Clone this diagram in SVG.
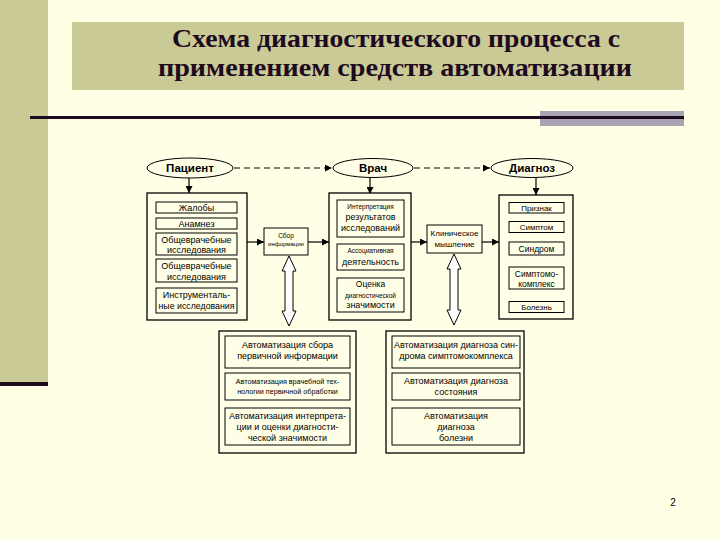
<svg xmlns="http://www.w3.org/2000/svg" width="720" height="540" viewBox="0 0 720 540">
<defs>
<style>
.t{font-family:"Liberation Sans",Arial,sans-serif;fill:#000;text-anchor:middle}
.b{fill:#FFFFE8;stroke:#000;stroke-width:1}
.o{fill:#FFFFE8;stroke:#000;stroke-width:1.3}
.c{stroke:#000;stroke-width:1.2;fill:none}
.d{stroke:#000;stroke-width:1.2;fill:none;stroke-dasharray:6 4}
</style>
<marker id="ah" viewBox="0 0 10 10" refX="10" refY="5" markerWidth="7" markerHeight="7" markerUnits="userSpaceOnUse" orient="auto">
<path d="M0,0 L10,5 L0,10 z" fill="#000"/>
</marker>
</defs>
<rect x="0" y="0" width="720" height="540" fill="#FFFFE6"/>
<rect x="0" y="0" width="48" height="382" fill="#CACA96"/>
<rect x="0" y="382" width="48" height="4" fill="#1E0A1E"/>
<rect x="72" y="22" width="612" height="68" fill="#CACA96"/>
<rect x="540" y="111" width="144" height="15" fill="#A8A3B5"/>
<rect x="30" y="116" width="654" height="3" fill="#1E0A1E"/>
<g id="title" font-family="'Liberation Serif','Times New Roman',serif" font-weight="bold" font-size="26" fill="#1E0A1E" text-anchor="middle">
<text x="396" y="47" textLength="448" lengthAdjust="spacingAndGlyphs">Схема диагностического процесса с</text>
<text x="395" y="76" textLength="474" lengthAdjust="spacingAndGlyphs">применением средств автоматизации</text>
</g>

<g id="connectors">
<line class="d" x1="234" y1="168" x2="332" y2="168" marker-end="url(#ah)"/>
<line class="d" x1="414" y1="168" x2="490" y2="168" marker-end="url(#ah)"/>
<line class="c" x1="189" y1="178" x2="189" y2="193" marker-end="url(#ah)"/>
<line class="c" x1="370" y1="177" x2="370" y2="194" marker-end="url(#ah)"/>
<line class="c" x1="536" y1="177" x2="536" y2="195" marker-end="url(#ah)"/>
<line class="c" x1="247" y1="242" x2="264" y2="242" marker-end="url(#ah)"/>
<line class="c" x1="308" y1="242" x2="329" y2="242" marker-end="url(#ah)"/>
<line class="c" x1="411" y1="242" x2="427" y2="242" marker-end="url(#ah)"/>
<line class="c" x1="482" y1="242" x2="499" y2="242" marker-end="url(#ah)"/>
<polygon fill="#FFFFFF" stroke="#000" stroke-width="1" points="289,256 296,271 293,271 293,311 296,311 289,326 282,311 285,311 285,271 282,271"/>
<polygon fill="#FFFFFF" stroke="#000" stroke-width="1" points="454,254 461,269 458,269 458,310 461,310 454,325 447,310 450,310 450,269 447,269"/>
</g>

<g id="patient">
<ellipse class="b" cx="190" cy="168" rx="43" ry="10"/>
<text class="t" x="190" y="172" font-size="11.5" font-weight="bold">Пациент</text>
</g>
<g id="doctor">
<ellipse class="b" cx="373" cy="168" rx="40" ry="9.5"/>
<text class="t" x="373" y="172" font-size="11.5" font-weight="bold">Врач</text>
</g>
<g id="diagnosis">
<ellipse class="b" cx="532" cy="168" rx="41" ry="9.5"/>
<text class="t" x="532" y="172" font-size="11.5" font-weight="bold">Диагноз</text>
</g>

<g id="patient-box">
<rect class="o" x="147" y="193" width="100" height="127"/>
<rect class="b" x="156" y="202" width="81" height="11"/>
<text class="t" x="196.5" y="211" font-size="9">Жалобы</text>
<rect class="b" x="156" y="218" width="81" height="11"/>
<text class="t" x="196.5" y="227" font-size="9">Анамнез</text>
<rect class="b" x="156" y="233" width="81" height="22"/>
<text class="t" x="196.5" y="243" font-size="9">Общеврачебные</text>
<text class="t" x="196.5" y="253" font-size="9">исследования</text>
<rect class="b" x="156" y="259" width="81" height="23"/>
<text class="t" x="196.5" y="269" font-size="9">Общеврачебные</text>
<text class="t" x="196.5" y="279.5" font-size="9">исследования</text>
<rect class="b" x="156" y="288" width="81" height="25"/>
<text class="t" x="196.5" y="298" font-size="9">Инструменталь-</text>
<text class="t" x="196.5" y="309" font-size="8.8">ные исследования</text>
</g>

<g id="collect">
<rect class="b" x="264" y="228" width="44" height="27"/>
<text class="t" x="286" y="238" font-size="6.5">Сбор</text>
<text class="t" x="286" y="246" font-size="6">информации</text>
</g>

<g id="doctor-box">
<rect class="o" x="329" y="193" width="82" height="127"/>
<rect class="b" x="337" y="200" width="67" height="37"/>
<text class="t" x="370.5" y="209" font-size="6.5">Интерпретация</text>
<text class="t" x="370.5" y="220" font-size="9">результатов</text>
<text class="t" x="370.5" y="231" font-size="9">исследований</text>
<rect class="b" x="337" y="244" width="67" height="26"/>
<text class="t" x="370.5" y="253" font-size="6.5">Ассоциативная</text>
<text class="t" x="370.5" y="265" font-size="9">деятельность</text>
<rect class="b" x="337" y="278" width="67" height="34"/>
<text class="t" x="370.5" y="287" font-size="8.5">Оценка</text>
<text class="t" x="370.5" y="297.5" font-size="6.5">диагностической</text>
<text class="t" x="370.5" y="308" font-size="9">значимости</text>
</g>

<g id="clinical">
<rect class="b" x="427" y="225" width="55" height="28"/>
<text class="t" x="454.5" y="236" font-size="8">Клиническое</text>
<text class="t" x="454.5" y="247" font-size="8">мышление</text>
</g>

<g id="diagnosis-box">
<rect class="o" x="499" y="195" width="74" height="124"/>
<rect class="b" x="509" y="202.5" width="55" height="10.5"/>
<text class="t" x="536.5" y="210.5" font-size="8">Признак</text>
<rect class="b" x="509" y="221.5" width="55" height="11"/>
<text class="t" x="536.5" y="230" font-size="8">Симптом</text>
<rect class="b" x="509" y="242" width="55" height="13"/>
<text class="t" x="536.5" y="251.5" font-size="8.5">Синдром</text>
<rect class="b" x="509" y="267" width="55" height="22"/>
<text class="t" x="536.5" y="276.5" font-size="8.5">Симптомо-</text>
<text class="t" x="536.5" y="286.5" font-size="8.5">комплекс</text>
<rect class="b" x="509" y="301.5" width="55" height="11"/>
<text class="t" x="536.5" y="310" font-size="8">Болезнь</text>
</g>

<g id="auto-left">
<rect class="o" x="219" y="331" width="137" height="122"/>
<rect class="b" x="225" y="336" width="125" height="32"/>
<text class="t" x="287.5" y="348" font-size="9">Автоматизация сбора</text>
<text class="t" x="287.5" y="359" font-size="9">первичной информации</text>
<rect class="b" x="225" y="373" width="125" height="27"/>
<text class="t" x="287.5" y="383.5" font-size="7.2">Автоматизация врачебной тех-</text>
<text class="t" x="287.5" y="393.5" font-size="7.2">нологии первичной  обработки</text>
<rect class="b" x="225" y="408" width="125" height="37"/>
<text class="t" x="287.5" y="418.5" font-size="9">Автоматизация интерпрета-</text>
<text class="t" x="287.5" y="429.5" font-size="9">ции и оценки диагности-</text>
<text class="t" x="287.5" y="440.5" font-size="9">ческой значимости</text>
</g>

<g id="auto-right">
<rect class="o" x="386" y="331" width="138" height="122"/>
<rect class="b" x="392" y="336" width="128" height="32"/>
<text class="t" x="456" y="348" font-size="9">Автоматизация диагноза син-</text>
<text class="t" x="456" y="359" font-size="9">дрома симптомокомплекса</text>
<rect class="b" x="392" y="373" width="128" height="27"/>
<text class="t" x="456" y="383.5" font-size="9">Автоматизация диагноза</text>
<text class="t" x="456" y="394.5" font-size="9">состояния</text>
<rect class="b" x="392" y="408" width="128" height="37"/>
<text class="t" x="456" y="418.5" font-size="9">Автоматизация</text>
<text class="t" x="456" y="429.5" font-size="9">диагноза</text>
<text class="t" x="456" y="440.5" font-size="9">болезни</text>
</g>

<text x="673" y="506" font-family="'Liberation Sans',Arial,sans-serif" font-size="10" text-anchor="middle" fill="#000">2</text>
</svg>
